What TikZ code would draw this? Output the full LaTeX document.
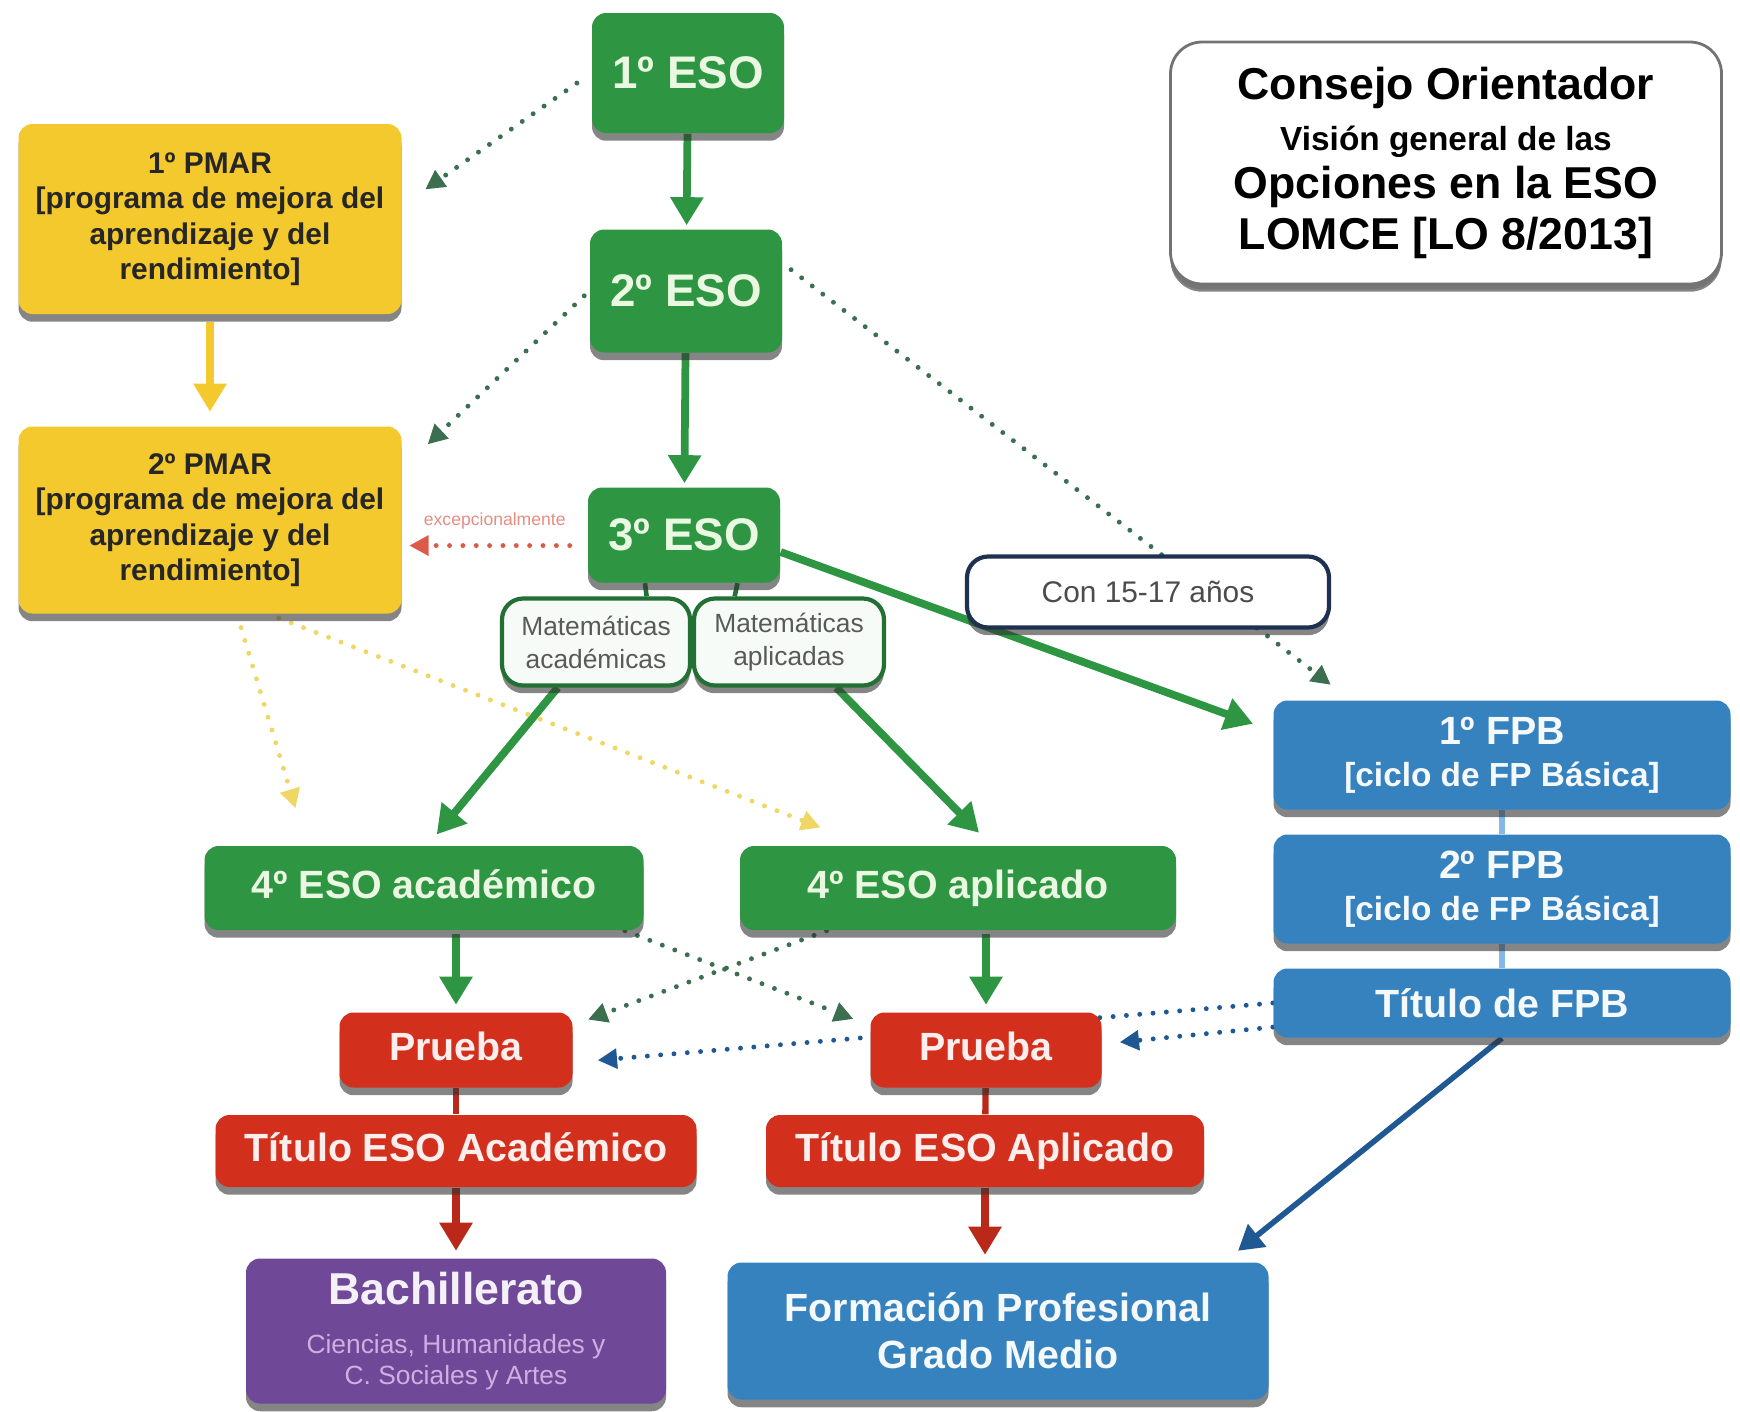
\documentclass[tikz,border=0pt]{standalone}
\usepackage{fontspec}
\setmainfont{Liberation Sans}
\usetikzlibrary{arrows.meta,shadows,backgrounds}
\definecolor{verde}{RGB}{46,150,66}
\definecolor{verdeosc}{RGB}{34,112,52}
\definecolor{puntoverde}{RGB}{60,110,80}
\definecolor{amarillo}{RGB}{243,201,45}
\definecolor{amarilloclaro}{RGB}{240,214,100}
\definecolor{azul}{RGB}{54,130,190}
\definecolor{azulosc}{RGB}{32,88,148}
\definecolor{azulclaro}{RGB}{130,185,230}
\definecolor{rojo}{RGB}{210,48,28}
\definecolor{rojoosc}{RGB}{185,40,25}
\definecolor{morado}{RGB}{112,72,152}
\definecolor{lila}{RGB}{205,175,225}
\definecolor{menta}{RGB}{234,248,226}
\definecolor{marino}{RGB}{30,50,80}

\begin{document}
\begin{tikzpicture}[
  caja/.style={rounded corners=4pt, align=center, inner sep=2pt,
    drop shadow={shadow xshift=0pt, shadow yshift=-2.2pt, opacity=.6, fill=black!80}},
  eso/.style={caja, fill=verde, text=menta, font=\fontsize{13}{15}\selectfont\bfseries},
  cuarto/.style={caja, fill=verde, text=menta, text height=8.2pt, text depth=2.2pt,
    font=\fontsize{11.2}{13}\selectfont\bfseries},
  pmar/.style={caja, fill=amarillo, text=black!85, font=\fontsize{8.5}{10.1}\selectfont\bfseries},
  fpb/.style={caja, fill=azul, text=white!95!azul, font=\fontsize{9.5}{12}\selectfont\bfseries},
  roja/.style={caja, fill=rojo, text=white!92!rojo, text height=8.2pt, text depth=2.2pt,
    font=\fontsize{11.2}{13}\selectfont\bfseries},
  mate/.style={caja, fill=white!96!verde, draw=verdeosc, line width=1.2pt, rounded corners=6pt,
    text=black!65, font=\fontsize{7.5}{9.4}\selectfont},
  edadbox/.style={caja, fill=white, draw=marino, line width=1.2pt, rounded corners=6pt,
    text=black!70, font=\fontsize{8.5}{10}\selectfont},
  gruesa/.style={line width=2.2pt, -{Triangle[length=8pt,width=9pt]}},
  punteada/.style={line width=1.4pt, dash pattern=on 0pt off 3.8pt, line cap=round,
    -{Triangle[length=5.5pt,width=5.5pt]}}
]
\useasboundingbox (0,0) rectangle (17.40,-14.11);

\node[eso, minimum width=1.92cm, minimum height=1.20cm] (eso1) at (6.88,-0.73) {1º ESO};
\node[eso, minimum width=1.92cm, minimum height=1.23cm] (eso2) at (6.86,-2.91) {2º ESO};
\node[eso, minimum width=1.92cm, minimum height=0.95cm] (eso3) at (6.84,-5.35) {3º ESO};
\node[pmar, minimum width=3.83cm, minimum height=1.90cm] (pmar1) at (2.10,-2.19) {1º PMAR\\{[}programa de mejora del\\aprendizaje y del\\rendimiento]};
\node[pmar, minimum width=3.83cm, minimum height=1.87cm] (pmar2) at (2.10,-5.20) {2º PMAR\\{[}programa de mejora del\\aprendizaje y del\\rendimiento]};
\node[caja, fill=white, draw=black!55, line width=0.8pt, rounded corners=9pt, minimum width=5.51cm, minimum height=2.42cm, font=\fontsize{12.7}{14.5}\selectfont\bfseries, drop shadow={shadow xshift=0pt, shadow yshift=-1.5pt, opacity=.12, fill=black}] (consejo) at (14.46,-1.63) {Consejo Orientador\\{\fontsize{9.5}{12}\selectfont Visión general de las}\\[-1pt]Opciones en la ESO\\LOMCE [LO 8/2013]};
\node[mate, minimum width=1.88cm, minimum height=0.87cm] (mata) at (5.96,-6.42) {Matemáticas\\académicas};
\node[mate, minimum width=1.90cm, minimum height=0.87cm] (matp) at (7.89,-6.42) {Matemáticas\\aplicadas};
\node[edadbox, minimum width=3.62cm, minimum height=0.71cm] (edad) at (11.48,-5.92) {Con 15-17 años};
\node[fpb, minimum width=4.57cm, minimum height=1.09cm] (fpb1) at (15.02,-7.55) {{\fontsize{11.2}{13}\selectfont 1º FPB}\\{[}ciclo de FP Básica]};
\node[fpb, minimum width=4.57cm, minimum height=1.09cm] (fpb2) at (15.02,-8.89) {{\fontsize{11.2}{13}\selectfont 2º FPB}\\{[}ciclo de FP Básica]};
\node[fpb, minimum width=4.57cm, minimum height=0.69cm, font=\fontsize{11.2}{13}\selectfont\bfseries] (tfpb) at (15.02,-10.03) {Título de FPB};
\node[cuarto, minimum width=4.39cm, minimum height=0.84cm] (aca4) at (4.24,-8.88) {4º ESO académico};
\node[cuarto, minimum width=4.36cm, minimum height=0.84cm] (apl4) at (9.58,-8.88) {4º ESO aplicado};
\node[roja, minimum width=2.33cm, minimum height=0.75cm] (prua) at (4.56,-10.50) {Prueba};
\node[roja, minimum width=2.31cm, minimum height=0.75cm] (prup) at (9.86,-10.50) {Prueba};
\node[roja, minimum width=4.81cm, minimum height=0.72cm] (taca) at (4.56,-11.51) {Título ESO Académico};
\node[roja, minimum width=4.38cm, minimum height=0.72cm] (tapl) at (9.85,-11.51) {Título ESO Aplicado};
\node[caja, fill=morado, text=lila, font=\fontsize{7.5}{9}\selectfont, minimum width=4.20cm, minimum height=1.45cm] (bach) at (4.56,-13.31) {{\fontsize{12.7}{15}\selectfont\bfseries\color{white!92!morado}Bachillerato}\\[5pt]Ciencias, Humanidades y\\C. Sociales y Artes};
\node[caja, fill=azul, text=white!95!azul, font=\fontsize{11.2}{13.4}\selectfont\bfseries, minimum width=5.41cm, minimum height=1.37cm] (fpgm) at (9.98,-13.31) {Formación Profesional\\Grado Medio};

\begin{pgfonlayer}{background}
\draw[gruesa, verde, shorten >=1pt] (eso1) -- (eso2);
\draw[gruesa, verde, shorten >=1pt] (eso2) -- (eso3);
\draw[gruesa, amarillo, shorten <=2pt, shorten >=4pt] (pmar1) -- (pmar2);
\draw[punteada, puntoverde, shorten <=5pt, shorten >=8pt] (eso1.west) -- (pmar1.4);
\draw[punteada, puntoverde, shorten <=2pt, shorten >=10pt] (eso2.west) -- (pmar2.15);
\draw[punteada, rojo!80, shorten <=5pt, shorten >=2pt] ([yshift=-3pt]eso3.west) -- ([yshift=-3pt]eso3.west -| pmar2.east) node[midway, above=4pt, inner sep=0pt, font=\fontsize{5}{6}\selectfont, text=rojo!55] {excepcionalmente};
\draw[punteada, puntoverde, shorten <=3pt, shorten >=7pt] (eso2.16) -- (fpb1.160);
\draw[gruesa, verde, shorten >=6pt] (eso3.-10) -- (fpb1.174);
\draw[line width=1.3pt, verdeosc] (eso3.231) -- (mata.42);
\draw[line width=1.3pt, verdeosc] (eso3.318) -- (matp.140);
\draw[gruesa, verde, shorten >=4pt] (mata.230) -- (aca4.85);
\draw[gruesa, verde, shorten >=5pt] (matp.316) -- (apl4.52);
\draw[punteada, amarilloclaro, shorten <=4pt, shorten >=11pt] (pmar2.286) -- (aca4.160);
\draw[punteada, amarilloclaro, shorten <=3pt, shorten >=14pt] (pmar2.302) -- (apl4.155);
\draw[gruesa, verde, shorten <=1pt, shorten >=2pt] (aca4.south -| prua.north) -- (prua.north);
\draw[gruesa, verde, shorten <=1pt, shorten >=2pt] (apl4.south -| prup.north) -- (prup.north);
\draw[punteada, puntoverde, shorten >=5pt] (aca4.-12) -- (prup.168);
\draw[punteada, puntoverde, shorten >=4.5pt] (apl4.198) -- (prua.12);
\draw[punteada, azulosc, shorten >=7pt] (tfpb.west) -- (prua.-6);
\draw[punteada, azulosc, shorten >=5pt] (tfpb.186) -- (prup.3);
\draw[line width=1.5pt, azulclaro] (fpb1) -- (fpb2);
\draw[line width=1.5pt, azulclaro] (fpb2) -- (tfpb);
\draw[line width=1.6pt, azulosc, -{Triangle[length=7pt,width=8pt]}, shorten >=5pt] (tfpb.south) -- (fpgm.17);
\draw[line width=1.8pt, rojoosc] (prua) -- (taca);
\draw[line width=1.8pt, rojoosc] (prup) -- (tapl);
\draw[gruesa, rojoosc, shorten >=2pt] (taca) -- (bach);
\draw[gruesa, rojoosc, shorten >=2pt] (tapl.south) -- (tapl.south |- fpgm.north);
\end{pgfonlayer}
\end{tikzpicture}
\end{document}
